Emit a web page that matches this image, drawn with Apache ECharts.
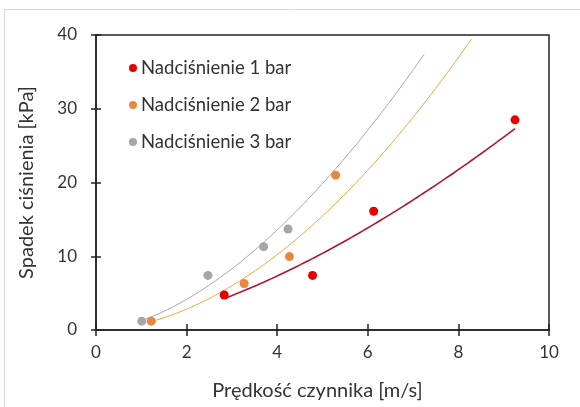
<!DOCTYPE html>
<html>
<head>
<meta charset="utf-8">
<script src="https://cdn.jsdelivr.net/npm/echarts@6/dist/echarts.min.js"></script>
<style>
html,body{margin:0;padding:0;background:#fff;}
#chart{width:580px;height:407px;}
</style>
</head>
<body>
<div id="chart"></div>
<script>
// ---- data ----
const seriesNames = ['Nadciśnienie 1 bar', 'Nadciśnienie 2 bar', 'Nadciśnienie 3 bar'];
const x1 = [2.83, 4.78, 6.13, 9.25];
const y1 = [4.75, 7.4, 16.1, 28.5];
const x2 = [1.22, 3.27, 4.27, 5.29];
const y2 = [1.2, 6.3, 9.95, 21.0];
const x3 = [1.01, 2.47, 3.70, 4.24];
const y3 = [1.2, 7.4, 11.3, 13.7];
const xTicks = [0, 2, 4, 6, 8, 10];
const yTicks = [0, 10, 20, 30, 40];
const trendForward = [0, 3, 3]; // Excel power trendline forecast forward
const xTitle = 'Prędkość czynnika [m/s]';
const yTitle = 'Spadek ciśnienia [kPa]';

// ---- styles ----
const markerColors = ['#e80000', '#e8873f', '#a6a6a6'];
const lineColors = ['#b4142e', '#f2a347', '#a8a8a8'];
const lineWidths = [1.6, 1, 1];
const FONT = 'Lato';
const TXT = '#333';
const AX = '#222';

function powerFit(xs, ys) {
  const n = xs.length;
  const lx = xs.map(Math.log), ly = ys.map(Math.log);
  const mx = lx.reduce((s, v) => s + v, 0) / n;
  const my = ly.reduce((s, v) => s + v, 0) / n;
  let sxy = 0, sxx = 0;
  for (let i = 0; i < n; i++) { sxy += (lx[i] - mx) * (ly[i] - my); sxx += (lx[i] - mx) ** 2; }
  const b = sxy / sxx;
  const a = Math.exp(my - b * mx);
  return { a, b };
}
function trend(xs, ys, fwd) {
  const { a, b } = powerFit(xs, ys);
  const x0 = Math.min(...xs), x1e = Math.max(...xs) + fwd;
  const pts = [];
  const N = 80;
  for (let i = 0; i <= N; i++) {
    const x = x0 + (x1e - x0) * i / N;
    pts.push([x, a * Math.pow(x, b)]);
  }
  return pts;
}

const xsAll = [x1, x2, x3], ysAll = [y1, y2, y3];
const series = [];
for (let k = 0; k < 3; k++) {
  series.push({
    name: seriesNames[k] + ' trend', type: 'line', data: trend(xsAll[k], ysAll[k], trendForward[k]),
    showSymbol: false, symbol: 'none', silent: true, z: 2,
    lineStyle: { color: lineColors[k], width: lineWidths[k] }
  });
}
for (let k = 0; k < 3; k++) {
  series.push({
    name: seriesNames[k], type: 'scatter', z: 5,
    data: xsAll[k].map((x, i) => [x, ysAll[k][i]]),
    symbolSize: 9, itemStyle: { color: markerColors[k], opacity: 1 }
  });
}

const chart = echarts.init(document.getElementById('chart'), null, { renderer: 'canvas' });
const xMin = xTicks[0], xMax = xTicks[xTicks.length - 1];
const yMin = yTicks[0], yMax = yTicks[yTicks.length - 1];
chart.setOption({
  animation: false,
  backgroundColor: '#fff',
  graphic: [
    { type: 'line', shape: { x1: 4.5, y1: 9.5, x2: 4.5, y2: 407 }, style: { stroke: '#d9d9d9', lineWidth: 1 } },
    { type: 'line', shape: { x1: 4.5, y1: 9.5, x2: 580, y2: 9.5 }, style: { stroke: '#d9d9d9', lineWidth: 1 } }
  ],
  grid: { left: 96, right: 31, top: 35, bottom: 77, show: true, borderColor: AX, borderWidth: 1.5, backgroundColor: 'transparent' },
  legend: {
    data: seriesNames, orient: 'vertical', left: 129, top: 57, padding: 0,
    itemGap: 15, itemWidth: 8, itemHeight: 8, icon: 'circle',
    textStyle: { fontFamily: FONT, fontSize: 18.5, color: '#333', padding: [0, 0, 0, -1], lineHeight: 22 }
  },
  xAxis: [{
    type: 'value', min: xMin, max: xMax, interval: 2, position: 'bottom',
    name: xTitle, nameLocation: 'middle', nameGap: 51,
    nameTextStyle: { fontFamily: FONT, fontSize: 20, color: TXT, padding: [0, 10, 0, 0] },
    axisLine: { show: true, onZero: false, lineStyle: { color: AX, width: 1.5 } },
    axisTick: { show: true, inside: false, length: 6, lineStyle: { color: AX, width: 1.5 } },
    axisLabel: { fontFamily: FONT, fontSize: 17, color: TXT, margin: 14 },
    splitLine: { show: false }
  }, {
    type: 'value', min: xMin, max: xMax, interval: 2, position: 'bottom', gridIndex: 0,
    axisLine: { show: false }, axisLabel: { show: false },
    axisTick: { show: true, inside: true, length: 6, lineStyle: { color: AX, width: 1.5 } },
    splitLine: { show: false }
  }],
  yAxis: [{
    type: 'value', min: yMin, max: yMax, interval: 10, position: 'left',
    name: yTitle, nameLocation: 'middle', nameGap: 59, nameRotate: 90,
    nameTextStyle: { fontFamily: FONT, fontSize: 20, color: TXT },
    axisLine: { show: true, onZero: false, lineStyle: { color: AX, width: 1.5 } },
    axisTick: { show: true, inside: false, length: 5, lineStyle: { color: AX, width: 1.5 } },
    axisLabel: { fontFamily: FONT, fontSize: 17, color: TXT, margin: 19 },
    splitLine: { show: false }
  }, {
    type: 'value', min: yMin, max: yMax, interval: 10, position: 'left',
    axisLine: { show: false }, axisLabel: { show: false },
    axisTick: { show: true, inside: true, length: 5, lineStyle: { color: AX, width: 1.5 } },
    splitLine: { show: false }
  }],
  series: series
});
</script>
</body>
</html>
